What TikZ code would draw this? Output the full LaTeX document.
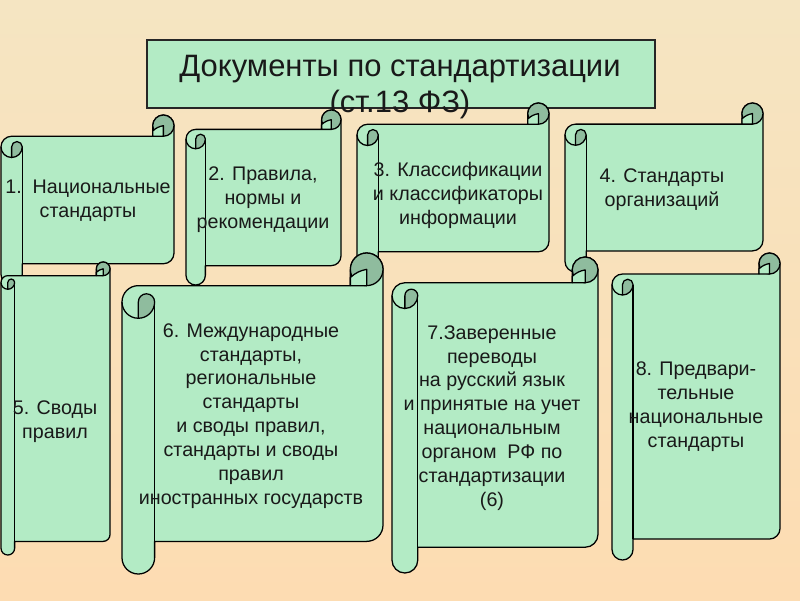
\documentclass[tikz,border=0pt]{standalone}
\usepackage{fontspec}
\setmainfont{Liberation Sans}
\usepackage{tikz}

\definecolor{scrollgreen}{HTML}{B3EBC5}
\definecolor{curlgreen}{HTML}{8FBC9E}
\definecolor{bgtop}{HTML}{F5E5C2}
\definecolor{bgmid}{HTML}{D6E4E4}
\definecolor{bgbot}{HTML}{FDDCB2}

\tikzset{
	edge/.style={draw=black, line width=0.9pt, line join=round},
	sheet/.style={edge, fill=scrollgreen},
	curl/.style={edge, fill=curlgreen},
	titlebox/.style={draw=black!85, line width=1pt, fill=scrollgreen, minimum width=12.7cm, minimum height=1.7cm, inner sep=0pt},
	titletext/.style={align=center, font=\fontsize{22}{25}\selectfont, text=black!90, inner sep=0pt},
	scrolltext/.style={align=center, font=\fontsize{14}{17}\selectfont, text=black!90, inner sep=0pt}
}

% #1 left, #2 top, #3 right, #4 bottom (pixels, y down)
\newcommand{\docscroll}[4]{%
	\pgfmathsetmacro{\sL}{#1}\pgfmathsetmacro{\sT}{-(#2)}%
	\pgfmathsetmacro{\sR}{#3}\pgfmathsetmacro{\sB}{-(#4)}%
	\pgfmathsetmacro{\scC}{0.125*min(#3-#1,#4-#2)}%
	\pgfmathsetmacro{\scH}{\scC/2}\pgfmathsetmacro{\scQ}{\scC/4}%
	\draw[sheet] (\sL,\sT-\scC-\scH) arc[start angle=180,end angle=90,radius=\scH]
		-- (\sR-\scC,\sT-\scC) -- (\sR-\scC,\sT-\scH) arc[start angle=180,end angle=0,radius=\scH]
		-- (\sR,\sB+\scC+\scH) arc[start angle=0,end angle=-90,radius=\scH]
		-- (\sL+\scC,\sB+\scC) -- (\sL+\scC,\sB+\scH) arc[start angle=0,end angle=-180,radius=\scH] -- cycle;
	\draw[curl] (\sR-\scH,\sT-\scH) circle[radius=\scH];
	\draw[sheet] (\sR-\scC,\sT-\scC) -- (\sR-\scC,\sT-\scH-\scQ) to[bend left=15] (\sR-\scH,\sT-\scH) -- (\sR-\scH,\sT-\scC) -- cycle;
	\draw[curl] (\sL+\scH,\sT-\scC-\scH) arc[start angle=180,end angle=0,radius=\scQ] arc[start angle=0,end angle=-90,radius=\scH] -- cycle;
	\draw[edge] (\sL,\sT-\scC-\scH) arc[start angle=180,end angle=270,radius=\scH];
	\draw[edge] (\sL+\scC,\sT-\scC-\scH) -- (\sL+\scC,\sB+\scC);
}

\begin{document}
\begin{tikzpicture}[x=0.025cm, y=0.025cm]
	\useasboundingbox (0,0) rectangle (800,-600);
	\fill[top color=bgtop, middle color=bgmid, bottom color=bgbot] (0,0) rectangle (800,-600);

	\node[titlebox] (titlebox) at (401,-74) {};
	\node[titletext] (title) at (400,-87) {Документы по стандартизации\\(ст.13 ФЗ)};

	\docscroll{1}{115}{174}{285}
	\docscroll{186}{110}{341}{285}
	\docscroll{357}{103}{549}{273}
	\docscroll{565}{103}{763}{272}

	\docscroll{1}{262}{110}{555}
	\docscroll{122}{253}{383}{574}
	\docscroll{392}{257}{598}{573}
	\docscroll{612}{253}{780}{560}

	\node[scrolltext] (nat) at (88,-201) {1.\ \ Национальные\\стандарты};
	\node[scrolltext] (rules) at (263,-200) {2. Правила,\\нормы и\\рекомендации};
	\node[scrolltext] (classif) at (458,-195) {3. Классификации\\и классификаторы\\информации};
	\node[scrolltext] (org) at (662,-190) {4. Стандарты\\организаций};
	\node[scrolltext] (codes) at (55,-422) {5. Своды\\правил};
	\node[scrolltext] (intl) at (251,-416) {6. Международные\\стандарты,\\региональные\\стандарты\\и своды правил,\\стандарты и своды\\правил\\иностранных государств};
	\node[scrolltext] (transl) at (492,-418) {7.Заверенные\\переводы\\на русский язык\\и принятые на учет\\национальным\\органом\ \ РФ по\\стандартизации\\(6)};
	\node[scrolltext] (prelim) at (696,-407) {8. Предвари-\\тельные\\национальные\\стандарты};
\end{tikzpicture}
\end{document}
